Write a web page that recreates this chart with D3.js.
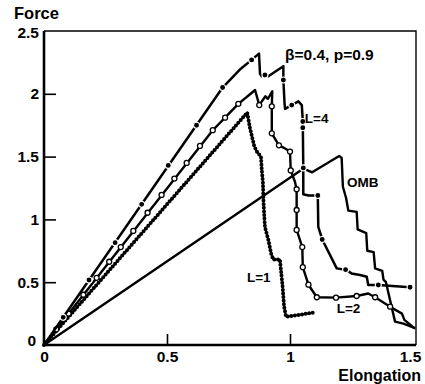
<!DOCTYPE html>
<html>
<head>
<meta charset="utf-8">
<script src="https://cdn.jsdelivr.net/npm/d3@7"></script>
<style>
  body { margin: 0; background: #fff; }
  text { font-family: "Liberation Sans", Arial, sans-serif; font-weight: bold; fill: #000; }
</style>
</head>
<body>
<div id="chart"></div>
<script>
// elongation / force pairs
const l4Line = [[0, 0], [0.726, 2.05], [0.80, 2.20], [0.844, 2.27], [0.874, 2.32], [0.878, 2.16],
  [0.885, 2.14], [0.898, 2.15], [0.912, 2.14], [0.973, 2.22], [0.973, 2.11], [0.978, 1.92],
  [0.98, 1.88], [1.007, 1.91], [1.034, 1.94], [1.048, 1.91], [1.052, 1.78], [1.054, 1.41],
  [1.054, 1.20], [1.075, 1.19], [1.113, 1.19], [1.115, 0.94], [1.131, 0.84], [1.19, 0.61],
  [1.226, 0.60], [1.25, 0.57], [1.285, 0.557], [1.312, 0.543], [1.318, 0.478], [1.359, 0.478],
  [1.488, 0.46]];
const l4Marks = [[0.078, 0.22], [0.183, 0.517], [0.289, 0.815], [0.397, 1.12], [0.505, 1.43],
  [0.62, 1.75], [0.726, 2.05], [0.844, 2.27], [0.898, 2.15], [0.973, 2.11], [1.007, 1.91],
  [1.052, 1.78], [1.052, 1.73], [1.054, 1.41], [1.113, 1.19], [1.131, 0.84], [1.226, 0.60],
  [1.359, 0.478], [1.488, 0.46]];

const l2Line = [[0, 0], [0.686, 1.71], [0.736, 1.81], [0.79, 1.92], [0.84, 2.0], [0.858, 2.03],
  [0.875, 1.91], [0.90, 1.98], [0.91, 1.96], [0.928, 2.02], [0.926, 1.90], [0.926, 1.685],
  [0.955, 1.59], [0.975, 1.57], [1.0, 1.54], [1.003, 1.39], [1.02, 1.30], [1.027, 1.24],
  [1.027, 0.916], [1.05, 0.78], [1.052, 0.62], [1.075, 0.48], [1.109, 0.38], [1.187, 0.377],
  [1.271, 0.39], [1.318, 0.41], [1.346, 0.38], [1.407, 0.305], [1.455, 0.25], [1.465, 0.20],
  [1.508, 0.13]];
const l2Marks = [[0.05, 0.125], [0.1, 0.25], [0.16, 0.40], [0.214, 0.535], [0.265, 0.663],
  [0.312, 0.78], [0.363, 0.908], [0.421, 1.053], [0.478, 1.195], [0.53, 1.325], [0.58, 1.45],
  [0.634, 1.585], [0.686, 1.71], [0.736, 1.81], [0.79, 1.92], [0.875, 1.91], [0.926, 1.90],
  [0.926, 1.685], [0.955, 1.59], [1.0, 1.54], [1.003, 1.39], [1.027, 1.24], [1.027, 1.075],
  [1.027, 0.916], [1.05, 0.78], [1.052, 0.62], [1.075, 0.48], [1.109, 0.38], [1.187, 0.377],
  [1.271, 0.39], [1.346, 0.38], [1.407, 0.305]];

const l1Line = [[0, 0], [0.826, 1.85], [0.837, 1.73], [0.855, 1.58], [0.868, 1.53], [0.882, 1.50],
  [0.885, 1.40], [0.89, 1.29], [0.892, 1.15], [0.898, 0.94], [0.912, 0.836], [0.923, 0.73],
  [0.932, 0.68], [0.959, 0.68], [0.970, 0.464], [0.976, 0.305], [0.984, 0.225], [1.095, 0.257]];

const ombLine = [[0, 0], [1.055, 1.405], [1.09, 1.375], [1.20, 1.505], [1.21, 1.49], [1.215, 1.26],
  [1.228, 1.17], [1.237, 1.07], [1.271, 1.06], [1.275, 0.92], [1.31, 0.89], [1.314, 0.75],
  [1.34, 0.74], [1.346, 0.61], [1.375, 0.59], [1.38, 0.52], [1.39, 0.50], [1.427, 0.186],
  [1.461, 0.17], [1.508, 0.135]];

const xTicks = [0, 0.5, 1, 1.5];
const yTicks = [0, 0.5, 1, 1.5, 2, 2.5];

const labels = [
  { text: "L=4", e: 1.06, f: 1.77 },
  { text: "OMB", e: 1.232, f: 1.26 },
  { text: "L=1", e: 0.825, f: 0.50 },
  { text: "L=2", e: 1.19, f: 0.255 },
];

const W = 425, H = 384;
var svg = d3.select("#chart").append("svg").attr("width", W).attr("height", H);

var x = d3.scaleLinear().domain([0, 1.5]).range([44, 413]);
var y = d3.scaleLinear().domain([0, 2.5]).range([345, 31]);

// axes, ticks pointing inward
var yAxis = svg.append("g")
  .attr("transform", "translate(44,0)")
  .call(d3.axisLeft(y).tickValues(yTicks).tickSize(-12).tickPadding(5).tickFormat(d3.format("")));
var xAxis = svg.append("g")
  .attr("transform", "translate(0,345)")
  .call(d3.axisBottom(x).tickValues(xTicks).tickSize(-11).tickPadding(6).tickFormat(d3.format("")));

[xAxis, yAxis].forEach((g) => {
  g.select(".domain").remove();
  g.selectAll("line").attr("stroke", "#000").attr("stroke-width", 1.6);
  g.selectAll("text").style("font-size", "15.5px").style("font-family", null);
});
yAxis.selectAll(".tick").filter((d) => d === 0 || d === 2.5).select("line").remove();
yAxis.selectAll(".tick").filter((d) => d === 0).select("text").attr("dy", "0.05em").attr("x", -8);
yAxis.selectAll(".tick").filter((d) => d === 2.5).select("text").attr("dy", "0.4em");
xAxis.selectAll(".tick").filter((d) => d === 0 || d === 1.5).select("line").remove();
xAxis.selectAll(".tick").filter((d) => d === 1.5).select("text").attr("x", -3);

// frame
svg.append("path")
  .attr("d", `M${x(0)},${y(2.5)}H416V${y(0)}`)
  .attr("fill", "none").attr("stroke", "#000").attr("stroke-width", 1.4);
svg.append("path")
  .attr("d", `M${x(0)},${y(2.5)}V${y(0)}H416`)
  .attr("fill", "none").attr("stroke", "#000").attr("stroke-width", 2.6);

var line = d3.line().x((d) => x(d[0])).y((d) => y(d[1]));

// OMB
svg.append("path").attr("d", line(ombLine))
  .attr("fill", "none").attr("stroke", "#000").attr("stroke-width", 2.4).attr("stroke-linejoin", "round");

// L=1: thin line under a row of dots
svg.append("path").attr("d", line(l1Line))
  .attr("fill", "none").attr("stroke", "#000").attr("stroke-width", 1.5);
svg.append("path").attr("d", line(l1Line))
  .attr("fill", "none").attr("stroke", "#000").attr("stroke-width", 4)
  .attr("stroke-dasharray", "0,3.6").attr("stroke-linecap", "round");

// L=2
svg.append("path").attr("d", line(l2Line))
  .attr("fill", "none").attr("stroke", "#000").attr("stroke-width", 2.4).attr("stroke-linejoin", "round");
svg.selectAll(".m2").data(l2Marks).enter().append("circle")
  .attr("cx", (d) => x(d[0])).attr("cy", (d) => y(d[1])).attr("r", 2.5)
  .attr("fill", "#fff").attr("stroke", "#000").attr("stroke-width", 1.3);

// L=4
svg.append("path").attr("d", line(l4Line))
  .attr("fill", "none").attr("stroke", "#000").attr("stroke-width", 2.5).attr("stroke-linejoin", "round");
svg.selectAll(".m4").data(l4Marks).enter().append("circle")
  .attr("cx", (d) => x(d[0])).attr("cy", (d) => y(d[1])).attr("r", 3)
  .attr("fill", "#000").attr("stroke", "#fff").attr("stroke-width", 1.1);

// text
svg.append("text").attr("x", 14).attr("y", 19).style("font-size", "16.5px").text("Force");
svg.append("text").attr("x", 421).attr("y", 381).attr("text-anchor", "end")
  .style("font-size", "16px").text("Elongation");
svg.append("text").attr("x", 285).attr("y", 60).style("font-size", "15.5px").text("β=0.4, p=0.9");
svg.selectAll(".lab").data(labels).enter().append("text")
  .attr("x", (d) => x(d.e)).attr("y", (d) => y(d.f))
  .style("font-size", "13.5px").text((d) => d.text);
</script>
</body>
</html>
